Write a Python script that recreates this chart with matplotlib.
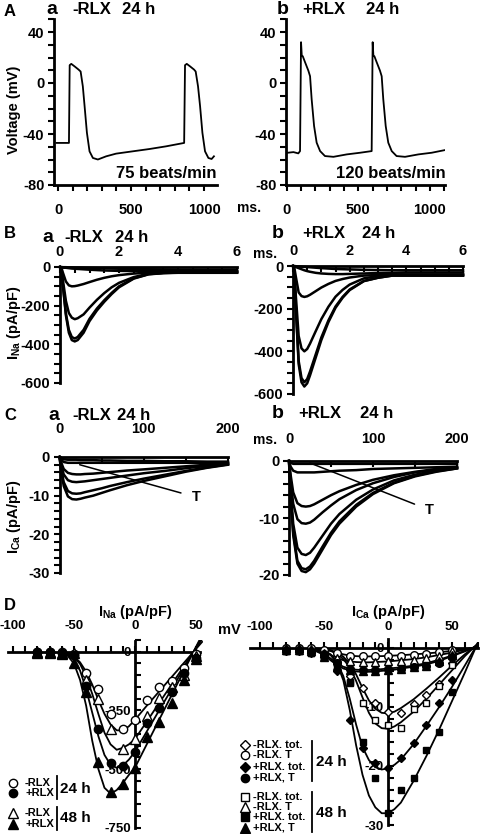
import matplotlib
matplotlib.use('Agg')
import matplotlib.pyplot as plt
from matplotlib.lines import Line2D
from matplotlib.ticker import MultipleLocator, FixedLocator

plt.rcParams['font.family'] = ['Liberation Sans', 'DejaVu Sans']
plt.rcParams['font.weight'] = 'bold'
plt.rcParams['axes.unicode_minus'] = False
plt.rcParams['mathtext.fontset'] = 'custom'
plt.rcParams['mathtext.bf'] = 'Liberation Sans:bold'
plt.rcParams['mathtext.rm'] = 'Liberation Sans:bold'
plt.rcParams['mathtext.default'] = 'bf'

# ---------------- DATA ----------------
# A: action potentials (ms, mV)
ap_a_t = [-10, 75, 80, 91, 114, 141, 155, 170, 182, 198, 216, 239, 273, 330, 398, 511, 625, 739, 864,
          870, 882, 905, 932, 943, 959, 973, 989, 1007, 1030, 1052, 1068]
ap_a_v = [-47, -47, 14, 15, 13, 10.5, 9, -2.6, -18, -39, -53.6, -58.8, -60, -57.5, -55.4, -53.6, -51.8, -49.7, -47,
          14, 15, 13, 10.5, 9, -2.6, -18, -39, -53.6, -58.8, -59.6, -57.5]
ap_b_t = [7, 47, 81, 93, 100, 105, 112, 128, 151, 163, 174, 191, 209, 233, 267, 326, 419, 512, 593,
          600, 605, 612, 628, 651, 663, 674, 691, 709, 733, 767, 826, 919, 1012, 1105]
ap_b_v = [-54.7, -54.2, -55.2, -53.4, 32, 21.6, 21, 16.3, 9.7, 5.3, -12.6, -33.7, -46.8, -53.4, -57.3, -57.9, -56, -54.7, -53.4,
          32, 21.6, 21, 16.3, 9.7, 5.3, -12.6, -33.7, -46.8, -53.4, -57.3, -57.9, -56, -54.7, -52.6]
rate_a = "75 beats/min"
rate_b = "120 beats/min"

# B: I_Na traces (ms, pA/pF)
na_t = [0, 0.05, 0.1, 0.2, 0.3, 0.4, 0.5, 0.6, 0.8, 1.0, 1.25, 1.5, 1.75, 2.0, 2.5, 3.0, 3.5, 4, 5, 6]
na_a1 = [0, -20, -100, -250, -340, -378, -385, -378, -340, -280, -225, -180, -140, -105, -60, -38, -32, -30, -30, -30]
na_a2 = [0, -20, -95, -240, -325, -362, -370, -362, -325, -268, -215, -172, -134, -100, -58, -37, -31, -29, -29, -29]
na_a3 = [0, -15, -70, -175, -238, -262, -270, -265, -245, -210, -170, -135, -105, -82, -52, -35, -30, -28, -27, -27]
na_a4 = [0, -5, -30, -75, -95, -100, -99, -96, -88, -78, -66, -56, -48, -42, -34, -29, -26, -25, -24, -24]
na_a5 = [0, -1, -2, -4, -6, -8, -9, -10, -12, -14, -16, -18, -19, -20, -21, -22, -22, -22, -22, -22]
na_a6 = [0, 0, -1, -1, -2, -2, -3, -3, -4, -5, -6, -7, -8, -9, -10, -12, -13, -14, -15, -15]
na_b1 = [0, -45, -200, -460, -545, -565, -550, -513, -430, -347, -263, -196, -149, -113, -71, -55, -45, -45, -45, -45]
na_b2 = [0, -40, -190, -445, -525, -545, -530, -495, -415, -335, -255, -190, -145, -110, -70, -55, -45, -45, -45, -45]
na_b3 = [0, -30, -140, -328, -386, -400, -389, -364, -306, -249, -191, -144, -112, -87, -58, -47, -40, -40, -40, -40]
na_b4 = [0, -10, -50, -124, -141, -145, -142, -135, -118, -101, -84, -70, -61, -54, -45, -42, -40, -40, -40, -40]
na_b5 = [0, -2, -5, -10, -15, -20, -24, -27, -32, -35, -37, -38, -38, -37, -35, -33, -32, -30, -30, -30]
na_b6 = [0, 0, -1, -2, -3, -4, -5, -6, -8, -10, -12, -14, -15, -16, -18, -19, -20, -20, -20, -20]

# C: I_Ca traces (ms, pA/pF)
ca_t = [0, 2, 5, 10, 15, 20, 25, 30, 40, 50, 60, 80, 100, 125, 150, 175, 200]
ca_a1 = [0, -3.5, -7.5, -10.2, -10.9, -11, -10.8, -10.5, -10, -9.3, -8.6, -7.3, -6.2, -5, -3.8, -2.8, -2]
ca_a2 = [0, -3, -6.5, -8.8, -9.4, -9.5, -9.4, -9.1, -8.6, -8.1, -7.5, -6.5, -5.6, -4.6, -3.6, -2.7, -1.9]
ca_a3 = [0, -2, -4.5, -6, -6.4, -6.5, -6.4, -6.3, -6, -5.7, -5.4, -4.8, -4.2, -3.6, -2.9, -2.3, -1.8]
ca_a4 = [0, -1.4, -3.1, -4.1, -4.4, -4.5, -4.5, -4.4, -4.3, -4.1, -3.9, -3.5, -3.2, -2.8, -2.4, -2, -1.7]
ca_a5 = [0, -0.8, -1.3, -1.5, -1.5, -1.5, -1.5, -1.5, -1.5, -1.5, -1.5, -1.5, -1.5, -1.5, -1.5, -1.5, -1.5]
ca_a6 = [0, -0.4, -0.6, -0.7, -0.7, -0.7, -0.8, -0.8, -0.8, -0.9, -0.9, -1.0, -1.0, -1.1, -1.1, -1.2, -1.2]
ca_b1 = [0, -6, -13, -18, -19.3, -19.5, -19, -18, -15.5, -13, -11, -8, -5.8, -3.9, -2.7, -1.9, -1.3]
ca_b2 = [0, -6, -12.5, -17.5, -18.8, -19, -18.5, -17.5, -15, -12.6, -10.6, -7.7, -5.6, -3.8, -2.6, -1.8, -1.3]
ca_b3 = [0, -5, -11, -15.2, -16.3, -16.5, -16.1, -15.2, -13.1, -11, -9.3, -6.8, -5, -3.4, -2.4, -1.7, -1.2]
ca_b4 = [0, -3.5, -7.5, -10.2, -10.9, -11, -10.8, -10.3, -9, -7.8, -6.7, -5.1, -3.9, -2.8, -2, -1.5, -1.1]
ca_b5 = [0, -2.5, -5.5, -7.4, -7.9, -8, -7.9, -7.6, -6.8, -6, -5.3, -4.2, -3.3, -2.5, -1.9, -1.4, -1.1]
ca_b6 = [0, -1, -1.7, -2, -2, -2, -2, -2, -1.9, -1.8, -1.7, -1.6, -1.4, -1.3, -1.2, -1.1, -1]
ca_b7 = [0, -0.3, -0.5, -0.5, -0.5, -0.5, -0.5, -0.5, -0.5, -0.5, -0.5, -0.5, -0.5, -0.5, -0.5, -0.5, -0.5]

# D left: I_Na - V
na_v = [-80, -70, -60, -50, -40, -30, -20, -10, 0, 10, 20, 30, 40, 50]
na_m24 = [0, 0, -3, -8, -90, -158, -264, -328, -293, -207, -150, -125, -70, -10]
na_p24 = [-3, -3, -5, -15, -148, -329, -474, -486, -426, -303, -238, -170, -90, -25]
na_m48 = [-2, -2, -4, -5, -119, -200, -330, -413, -372, -272, -196, -150, -98, -20]
na_p48 = [-5, -5, -8, -47, -170, -468, -597, -563, -494, -362, -298, -220, -120, -30]
na_fit_v = [-60, -55, -50, -45, -40, -35, -30, -25, -20, -15, -10, -5, 0, 10, 20, 30, 40, 50, 55]
na_fit_m24 = [-2, -8, -20, -45, -85, -140, -205, -265, -310, -335, -336, -318, -290, -228, -168, -108, -48, 12, 42]
na_fit_m48 = [-2, -8, -22, -52, -105, -180, -265, -345, -395, -418, -410, -395, -372, -295, -217, -140, -62, 16, 54]
na_fit_p24 = [-3, -12, -35, -80, -160, -260, -360, -440, -482, -495, -485, -460, -426, -337, -248, -160, -71, 18, 62]
na_fit_p48 = [-5, -18, -50, -120, -230, -380, -500, -580, -605, -590, -560, -525, -494, -391, -288, -185, -82, 21, 72]

# D right: I_Ca - V
ca_v = [-80, -70, -60, -50, -40, -30, -20, -10, 0, 10, 20, 30, 40, 50]
ca_m24_tot = [-0.3, -0.3, -0.4, -1.2, -2.5, -4.8, -6.8, -9.3, -10.8, -11.0, -9.5, -8.0, -6.1, -2.6]
ca_m24_T = [0, 0, 0, -0.3, -0.8, -1.3, -1.4, -1.4, -1.3, -1.3, -1.2, -1.0, -0.7, -0.3]
ca_p24_tot = [-0.5, -0.5, -0.8, -1.5, -4.0, -12.2, -17.0, -19.5, -20.3, -18.6, -16.1, -13.0, -9.3, -5.4]
ca_p24_T = [-0.4, -0.4, -0.5, -1.0, -2.5, -3.5, -3.7, -3.7, -3.6, -3.5, -3.3, -3.0, -2.5, -1.5]
ca_m48_tot = [-0.5, -0.5, -0.8, -1.5, -3.0, -6.0, -9.3, -12.2, -13.0, -13.5, -10.3, -9.3, -6.4, -2.9]
ca_m48_T = [0, 0, -0.2, -0.8, -1.8, -2.3, -2.4, -2.4, -2.3, -2.2, -2.1, -1.8, -1.3, -0.6]
ca_p48_tot = [-0.5, -0.5, -0.8, -1.5, -2.5, -5.7, -15.9, -22.0, -28.0, -24.0, -22.0, -17.3, -14.2, -7.4]
ca_p48_T = [-0.4, -0.4, -0.6, -1.5, -3.0, -3.8, -4.0, -4.0, -3.8, -3.6, -3.3, -3.0, -2.3, -1.2]
ca_fit_v = [-60, -50, -45, -40, -35, -30, -25, -20, -15, -10, -5, 0, 5, 10, 20, 30, 40, 50, 60, 70]
ca_fit_m24 = [-0.1, -0.2, -0.4, -0.8, -1.5, -2.7, -4.5, -6.8, -8.9, -10.3, -11.0, -11.1, -10.8, -10.2, -8.7, -6.9, -5.0, -3.0, -1.1, 0.6]
ca_fit_m48 = [-0.1, -0.3, -0.5, -1.0, -1.9, -3.3, -5.6, -8.4, -11.0, -12.8, -13.6, -13.7, -13.3, -12.6, -10.8, -8.6, -6.2, -3.8, -1.4, 0.7]
ca_fit_p24 = [-0.1, -0.5, -1.1, -2.4, -4.8, -8.6, -13.0, -16.8, -19.0, -20.2, -20.6, -20.4, -19.8, -18.9, -16.3, -13.2, -10.0, -6.6, -3.0, 0.7]
ca_fit_p48 = [-0.1, -0.5, -1.2, -2.6, -5.5, -10.5, -16.5, -21.5, -25.0, -27.0, -28.0, -28.0, -27.3, -26.2, -22.5, -18.3, -13.8, -9.0, -4.2, 0.8]
ca_fit_tm24 = [0, -0.3, -0.5, -0.8, -1.1, -1.3, -1.4, -1.45, -1.45, -1.4, -1.4, -1.35, -1.3, -1.25, -1.1, -0.95, -0.75, -0.5, -0.2, 0.1]
ca_fit_tm48 = [-0.1, -0.7, -1.2, -1.7, -2.1, -2.3, -2.4, -2.45, -2.45, -2.4, -2.35, -2.3, -2.2, -2.1, -1.9, -1.6, -1.2, -0.8, -0.3, 0.2]
ca_fit_tp24 = [-0.2, -1.0, -1.8, -2.6, -3.2, -3.5, -3.7, -3.75, -3.75, -3.7, -3.6, -3.5, -3.4, -3.3, -3.0, -2.6, -2.0, -1.3, -0.5, 0.3]
ca_fit_tp48 = [-0.2, -1.2, -2.1, -2.9, -3.5, -3.8, -4.0, -4.05, -4.05, -4.0, -3.9, -3.8, -3.7, -3.5, -3.2, -2.8, -2.2, -1.4, -0.6, 0.3]

# ---------------- FIGURE ----------------
W, H = 480, 834
fig = plt.figure(figsize=(4.8, 8.34), dpi=100)
fig.patch.set_facecolor('white')


def add_ax(x0, x1, ytop, ybot):
    return fig.add_axes([x0 / W, 1 - ybot / H, (x1 - x0) / W, (ybot - ytop) / H])


def ftext(x, y, s, size, ha='left', va='center', **kw):
    fig.text(x / W, 1 - y / H, s, fontsize=size, ha=ha, va=va, fontweight='bold', **kw)


def clean(ax):
    for s in ax.spines.values():
        s.set_linewidth(2.0)
    ax.patch.set_alpha(0)


TICK = 10.5

# ---------- Panel A ----------
for (x0, x1, xl, t, v, rate, rx) in [
        (54, 217, (-27.4, 1089), ap_a_t, ap_a_v, rate_a, 216),
        (286, 445, (-5, 1105), ap_b_t, ap_b_v, rate_b, 446)]:
    ax = add_ax(x0, x1, 19.25, 185)
    clean(ax)
    ax.plot(t, v, color='k', lw=1.3)
    ax.set_xlim(*xl)
    ax.set_ylim(-80, 50)
    ax.spines['top'].set_visible(False)
    ax.spines['right'].set_visible(False)
    ax.yaxis.set_major_locator(FixedLocator([-80, -40, 0, 40]))
    ax.yaxis.set_minor_locator(MultipleLocator(10))
    ax.xaxis.set_major_locator(FixedLocator([0, 500, 1000]))
    ax.xaxis.set_minor_locator(MultipleLocator(100))
    ax.tick_params(axis='both', which='both', direction='out', width=1.5, length=4)
    ax.tick_params(axis='x', which='major', pad=9, labelsize=TICK)
    ax.tick_params(axis='y', which='major', pad=3, labelsize=TICK)
    ftext(rx, 174, rate, 12, ha='right')

ftext(4, 12, 'A', 12)
ftext(46, 10, 'a', 14)
ftext(72, 10, '-RLX', 12)
ftext(122, 10, '24 h', 12)
ftext(277, 10, 'b', 14)
ftext(302, 10, '+RLX', 12)
ftext(366, 10, '24 h', 12)
ftext(237, 208, 'ms.', 10)
ftext(14, 110, 'Voltage (mV)', 10.5, ha='center', rotation=90)

# ---------- Panel B ----------
def current_axes(x0, x1, ytop, ybot, xlim, ylim, xmaj, xmin, ymaj, ymin, lpad):
    ax = add_ax(x0, x1, ytop, ybot)
    clean(ax)
    ax.set_xlim(*xlim)
    ax.set_ylim(*ylim)
    ax.spines['bottom'].set_visible(False)
    ax.spines['right'].set_visible(False)
    ax.spines['top'].set_bounds(0, xmaj[-1])
    ax.xaxis.set_ticks_position('top')
    ax.xaxis.set_major_locator(FixedLocator(xmaj))
    ax.xaxis.set_minor_locator(MultipleLocator(xmin))
    ax.yaxis.set_major_locator(FixedLocator(ymaj))
    ax.yaxis.set_minor_locator(MultipleLocator(ymin))
    ax.tick_params(axis='x', which='both', direction='in', width=1.5, length=4)
    ax.tick_params(axis='x', which='major', pad=lpad, labelsize=TICK)
    ax.tick_params(axis='y', which='both', direction='out', width=1.5, length=4)
    ax.tick_params(axis='y', which='major', pad=3, labelsize=TICK)
    return ax

axBa = current_axes(60, 240, 267, 383, (0, 6.1), (-600, 0), [0, 2, 4, 6], 0.5,
                    [0, -200, -400, -600], 50, 6)
for tr in [na_a6, na_a5, na_a4, na_a3, na_a2, na_a1]:
    axBa.plot(na_t, tr, color='k', lw=1.8, clip_on=False)

axBb = current_axes(293, 465, 266, 394, (0, 6.07), (-600, 0), [0, 2, 4, 6], 0.5,
                    [0, -200, -400, -600], 50, 6)
for tr in [na_b6, na_b5, na_b4, na_b3, na_b2, na_b1]:
    axBb.plot(na_t, tr, color='k', lw=1.8, clip_on=False)

ftext(4, 233, 'B', 12)
ftext(42, 238, 'a', 14)
ftext(64, 238, '-RLX', 12)
ftext(115, 238, '24 h', 12)
ftext(272, 233, 'b', 14)
ftext(302, 233, '+RLX', 12)
ftext(362, 233, '24 h', 12)
ftext(253, 254, 'ms.', 10)
ftext(14, 323, r'I$_{\mathbf{Na}}$ (pA/pF)', 10.5, ha='center', rotation=90)

# ---------- Panel C ----------
axCa = current_axes(59.5, 228, 457, 573, (0, 200), (-30, 0), [0, 100, 200], 50,
                    [0, -10, -20, -30], 2, 15)
for tr in [ca_a6, ca_a5, ca_a4, ca_a3, ca_a2, ca_a1]:
    axCa.plot(ca_t, tr, color='k', lw=1.8, clip_on=False)
axCa.annotate('T', xy=(24, -2), xytext=(157, -10.4), fontsize=10.5, fontweight='bold',
              ha='left', va='center',
              arrowprops=dict(arrowstyle='-', lw=1.1, color='k', shrinkA=6, shrinkB=0))

axCb = current_axes(289, 457, 461, 575, (0, 200), (-20, 0), [0, 100, 200], 50,
                    [0, -10, -20], 2, 11)
for tr in [ca_b7, ca_b6, ca_b5, ca_b4, ca_b3, ca_b2, ca_b1]:
    axCb.plot(ca_t, tr, color='k', lw=1.8, clip_on=False)
axCb.annotate('T', xy=(25, -0.35), xytext=(162, -8.6), fontsize=10.5, fontweight='bold',
              ha='left', va='center',
              arrowprops=dict(arrowstyle='-', lw=1.1, color='k', shrinkA=6, shrinkB=0))

ftext(4, 415, 'C', 12)
ftext(48, 416, 'a', 14)
ftext(72, 416, '-RLX', 12)
ftext(117, 416, '24 h', 12)
ftext(272, 414, 'b', 14)
ftext(298, 414, '+RLX', 12)
ftext(360, 414, '24 h', 12)
ftext(253, 440, 'ms.', 10)
ftext(14, 517, r'I$_{\mathbf{Ca}}$ (pA/pF)', 10.5, ha='center', rotation=90)

# ---------- Panel D ----------
def iv_axes(x0, x1, ytop, ybot, xlim, ylim, ymaj, ymin, xbounds, ybounds, lpad):
    ax = add_ax(x0, x1, ytop, ybot)
    ax.patch.set_alpha(0)
    ax.set_xlim(*xlim)
    ax.set_ylim(*ylim)
    ax.spines['bottom'].set_visible(False)
    ax.spines['right'].set_visible(False)
    ax.spines['top'].set_position(('data', 0))
    ax.spines['left'].set_position(('data', 0))
    ax.spines['top'].set_bounds(*xbounds)
    ax.spines['left'].set_bounds(*ybounds)
    for s in ['top', 'left']:
        ax.spines[s].set_linewidth(2.0)
    ax.xaxis.set_ticks_position('top')
    ax.xaxis.set_major_locator(FixedLocator([-100, -50, 0, 50]))
    ax.xaxis.set_minor_locator(MultipleLocator(10))
    ax.yaxis.set_major_locator(FixedLocator(ymaj))
    ax.yaxis.set_minor_locator(MultipleLocator(ymin))
    ax.tick_params(axis='x', which='both', direction='out', width=1.5, length=4)
    ax.tick_params(axis='x', which='major', pad=lpad, labelsize=9.5)
    ax.tick_params(axis='y', which='both', direction='in', width=1.5, length=4)
    ax.tick_params(axis='y', which='major', pad=3, labelsize=9.5)
    return ax

MS = 5.5
open_kw = dict(mfc='white', mec='k', mew=1.0, ls='none', zorder=4, clip_on=False)
fill_kw = dict(mfc='k', mec='k', mew=1.0, ls='none', zorder=5, clip_on=False)

axDa = iv_axes(8, 203, 640, 830, (-104, 55.7), (-760, 50), [0, -250, -500, -750], 50,
               (-104, 53), (-750, 44), 10)
for f in [na_fit_m24, na_fit_m48, na_fit_p24, na_fit_p48]:
    axDa.plot(na_fit_v, f, color='k', lw=1.3, zorder=3)
axDa.plot(na_v, na_m24, marker='o', ms=MS + 0.5, **open_kw)
axDa.plot(na_v, na_m48, marker='^', ms=MS + 1, **open_kw)
axDa.plot(na_v, na_p24, marker='o', ms=MS + 0.5, **fill_kw)
axDa.plot(na_v, na_p48, marker='^', ms=MS + 1, **fill_kw)

axDb = iv_axes(250, 477.6, 639, 828, (-108, 70), (-30.5, 1.5), [0, -10, -20, -30], 2,
               (-108, 70), (-30, 1.5), 7)
for f in [ca_fit_m24, ca_fit_m48, ca_fit_p24, ca_fit_p48,
          ca_fit_tm24, ca_fit_tm48, ca_fit_tp24, ca_fit_tp48]:
    axDb.plot(ca_fit_v, f, color='k', lw=1.3, zorder=3)
axDb.plot(ca_v, ca_m24_tot, marker='D', ms=MS - 1, **open_kw)
axDb.plot(ca_v, ca_m24_T, marker='o', ms=MS, **open_kw)
axDb.plot(ca_v, ca_m48_tot, marker='s', ms=MS - 0.5, **open_kw)
axDb.plot(ca_v, ca_m48_T, marker='^', ms=MS + 0.5, **open_kw)
axDb.plot(ca_v, ca_p24_tot, marker='D', ms=MS - 1, **fill_kw)
axDb.plot(ca_v, ca_p24_T, marker='o', ms=MS, **fill_kw)
axDb.plot(ca_v, ca_p48_tot, marker='s', ms=MS - 0.5, **fill_kw)
axDb.plot(ca_v, ca_p48_T, marker='^', ms=MS + 0.5, **fill_kw)

ftext(4, 605, 'D', 12)
ftext(135, 612, r'I$_{\mathbf{Na}}$ (pA/pF)', 10.5, ha='center')
ftext(388, 612, r'I$_{\mathbf{Ca}}$ (pA/pF)', 10.5, ha='center')
ftext(218, 630, 'mV', 10.5)

# ---------- D legends ----------
def key(x, y, marker, filled, ms):
    fig.add_artist(Line2D([x / W], [1 - y / H], transform=fig.transFigure, marker=marker,
                          ms=ms, mfc='k' if filled else 'white', mec='k', mew=1.0, ls='none'))

def vbar(x, y0, y1):
    fig.add_artist(Line2D([x / W, x / W], [1 - y0 / H, 1 - y1 / H], transform=fig.transFigure,
                          color='k', lw=1.3))

# left legend
key(13, 783, 'o', False, 6)
key(13, 793, 'o', True, 6)
ftext(25, 783, '-RLX', 8)
ftext(25, 793, '+RLX', 8)
vbar(57, 776, 799)
ftext(60, 789, '24 h', 11)
key(13, 813, '^', False, 6.5)
key(13, 824, '^', True, 6.5)
ftext(25, 813, '-RLX', 8)
ftext(25, 824, '+RLX', 8)
vbar(57, 807, 830)
ftext(60, 818, '48 h', 11)

# right legend
for (y, m, f, s) in [(745, 'D', False, '-RLX. tot.'), (755, 'o', False, '-RLX. T'),
                     (767, 'D', True, '+RLX. tot.'), (778, 'o', True, '+RLX, T')]:
    key(245, y, m, f, 5 if m == 'D' else 6)
    ftext(253, y, s, 8)
vbar(312, 741, 781)
ftext(316, 762, '24 h', 11)
for (y, m, f, s) in [(797, 's', False, '-RLX. tot.'), (807, '^', False, '-RLX. T'),
                     (817, 's', True, '+RLX. tot.'), (828, '^', True, '+RLX, T')]:
    key(245, y, m, f, 5.5 if m == 's' else 6.5)
    ftext(253, y, s, 8)
vbar(312, 792, 832)
ftext(316, 813, '48 h', 11)

fig.savefig('out.png', dpi=100, facecolor='white')
